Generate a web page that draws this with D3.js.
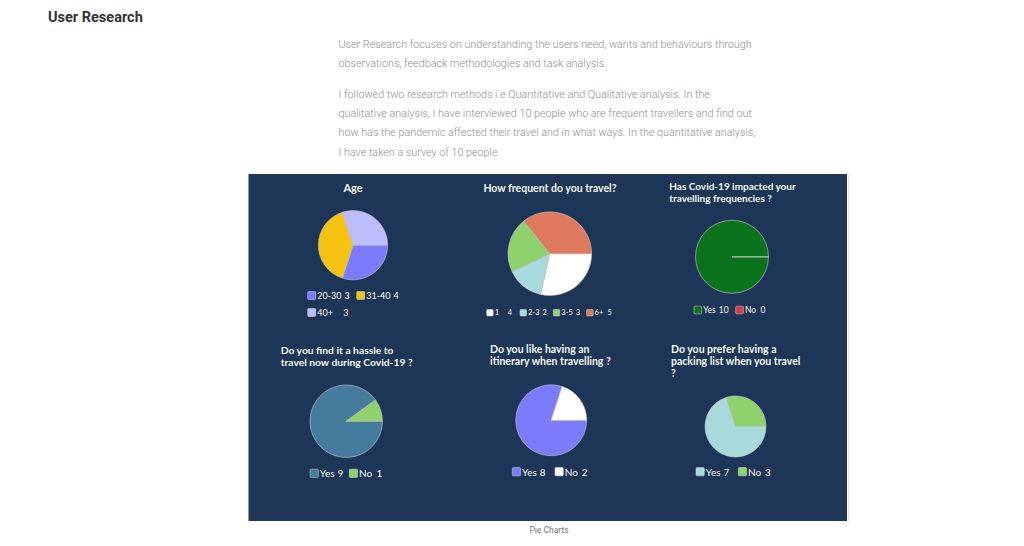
<!DOCTYPE html>
<html><head><meta charset="utf-8">
<script src="https://cdn.jsdelivr.net/npm/d3@7"></script>
<style>
html,body{margin:0;padding:0;background:#fff;}
svg{display:block;}
</style></head>
<body>
<svg id="chart" width="1024" height="546"></svg>
<script>
// ---------- data ----------
const pageHeading = "User Research";
const paragraph1 = [
  "User Research focuses on understanding the users need, wants and behaviours through",
  "observations, feedback methodologies and task analysis."
];
const paragraph2 = [
  "I followed two research methods i.e Quantitative and Qualitative analysis. In the",
  "qualitative analysis, I have interviewed 10 people who are frequent travellers and find out",
  "how has the pandemic affected their travel and in what ways. In the quantitative analysis,",
  "I have taken a survey of 10 people."
];
const captionText = "Pie Charts";

const ageTitle = ["Age"];
const ageLabels = ["20-30", "31-40", "40+"];
const ageValues = [3, 4, 3];
const ageColors = ["#7b7bfb", "#f5c211", "#bcbdfc"];

const freqTitle = ["How frequent do you travel?"];
const freqLabels = ["1", "2-3", "3-5", "6+"];
const freqValues = [4, 2, 3, 5];
const freqColors = ["#ffffff", "#a8dadc", "#8fd16b", "#e07a5f"];

const covidTitle = ["Has Covid-19 impacted your", "travelling frequencies ?"];
const covidLabels = ["Yes", "No"];
const covidValues = [10, 0];
const covidColors = ["#0a731c", "#e63946"];

const hassleTitle = ["Do you find it a hassle to", "travel now during Covid-19 ?"];
const hassleLabels = ["Yes", "No"];
const hassleValues = [9, 1];
const hassleColors = ["#457b9d", "#8fd16b"];

const itinTitle = ["Do you like having an", "itinerary when travelling ?"];
const itinLabels = ["Yes", "No"];
const itinValues = [8, 2];
const itinColors = ["#7b7bfb", "#ffffff"];

const packTitle = ["Do you prefer having a", "packing list when you travel", "?"];
const packLabels = ["Yes", "No"];
const packValues = [7, 3];
const packColors = ["#a8dadc", "#8fd16b"];

// ---------- layout (positions / styles only) ----------
const charts = [
  {title: ageTitle, labels: ageLabels, values: ageValues, colors: ageColors,
   cx: 353, cy: 245.2, r: 34.6, titleAnchor: "middle", tx: 353, ty: 187.7, tSize: 11,
   lx: 307.7, ly: 295.5, lStep: 49, perRow: 2, rowH: 17, sq: 8, lFont: 9, tab: 26,
   lFamily: "'Liberation Sans Narrow','Arial Narrow',Lato,sans-serif"},
  {title: freqTitle, labels: freqLabels, values: freqValues, colors: freqColors,
   cx: 549.8, cy: 253.7, r: 41.8, titleAnchor: "middle", tx: 550, ty: 187.7, tSize: 10.5,
   lx: 486.7, ly: 312.7, lStep: 33.3, perRow: 4, rowH: 17, sq: 6.5, lFont: 7.5, tab: 13,
   lFamily: "Lato,sans-serif"},
  {title: covidTitle, labels: covidLabels, values: covidValues, colors: covidColors,
   cx: 732, cy: 256.8, r: 36.5, titleAnchor: "start", tx: 669.3, ty: 186, tSize: 10,
   lx: 694, ly: 310, lStep: 41.7, perRow: 2, rowH: 17, sq: 7.7, lFont: 8.5, tab: 15.5,
   lFamily: "Lato,sans-serif"},
  {title: hassleTitle, labels: hassleLabels, values: hassleValues, colors: hassleColors,
   cx: 346.2, cy: 421.2, r: 36.2, titleAnchor: "start", tx: 280.7, ty: 350, tSize: 10.3,
   lx: 310, ly: 473.3, lStep: 39.3, perRow: 2, rowH: 17, sq: 8.3, lFont: 10, tab: 17.3,
   lFamily: "Lato,sans-serif"},
  {title: itinTitle, labels: itinLabels, values: itinValues, colors: itinColors,
   cx: 551.2, cy: 420.3, r: 35.5, titleAnchor: "start", tx: 490, ty: 349, tSize: 10.5,
   lx: 512.3, ly: 471.7, lStep: 42.7, perRow: 2, rowH: 17, sq: 8.3, lFont: 10, tab: 17,
   lFamily: "Lato,sans-serif"},
  {title: packTitle, labels: packLabels, values: packValues, colors: packColors,
   cx: 735.5, cy: 426.5, r: 30.5, titleAnchor: "start", tx: 671, ty: 349, tSize: 10.5,
   lx: 696, ly: 471.7, lStep: 42.3, perRow: 2, rowH: 17, sq: 8.3, lFont: 10, tab: 17,
   lFamily: "Lato,sans-serif"}
];

const svg = d3.select("#chart");

// page heading
svg.append("text").attr("x", 48).attr("y", 17.5).attr("dominant-baseline", "central")
  .attr("font-family", "Roboto, sans-serif").attr("font-weight", 700)
  .attr("font-size", 14.5).attr("fill", "#333").text(pageHeading);

// paragraphs (font size fitted so the first line spans the reference width)
const paraG = svg.append("g").attr("font-family", "Roboto, sans-serif")
  .attr("font-weight", 300).attr("font-size", 11).attr("fill", "#8f8f8f");
const p1 = paragraph1.map((t, i) => paraG.append("text").attr("x", 338.5).attr("y", 44.5 + i * 19.2)
  .attr("dominant-baseline", "central").text(t));
paragraph2.forEach((t, i) => paraG.append("text").attr("x", 338.5).attr("y", 94 + i * 19.4)
  .attr("dominant-baseline", "central").text(t));
const w0 = p1[0].node().getComputedTextLength();
paraG.attr("font-size", 11 * 414 / w0);

// panel
svg.append("rect").attr("x", 248.5).attr("y", 174).attr("width", 598.5).attr("height", 347)
  .attr("fill", "#1d3557");
svg.append("line").attr("x1", 848.5).attr("x2", 848.5).attr("y1", 174).attr("y2", 521)
  .attr("stroke", "#e4e4e4").attr("stroke-width", 1);

// caption
svg.append("text").attr("x", 549).attr("y", 530).attr("dominant-baseline", "central")
  .attr("text-anchor", "middle").attr("font-family", "Roboto, sans-serif")
  .attr("font-size", 8.5).attr("fill", "#777").text(captionText);

charts.forEach(c => {
  const g = svg.append("g");
  // title
  const tt = g.append("text").attr("font-family", "Lato, sans-serif").attr("font-weight", 700)
    .attr("font-size", c.tSize).attr("fill", "#f1faee").attr("text-anchor", c.titleAnchor);
  c.title.forEach((line, i) => tt.append("tspan").attr("x", c.tx).attr("y", c.ty + i * 11.8)
    .attr("dominant-baseline", "central").text(line));

  // pie
  const pie = d3.pie().sort(null).value(d => d)
    .startAngle(Math.PI / 2).endAngle(Math.PI / 2 + 2 * Math.PI);
  const arc = d3.arc().innerRadius(0).outerRadius(c.r);
  const color = d3.scaleOrdinal().domain(c.labels).range(c.colors);
  const arcs = pie(c.values).map((a, i) => Object.assign(a, {label: c.labels[i]}));
  const pg = g.append("g").attr("transform", `translate(${c.cx},${c.cy})`);
  pg.selectAll("path").data(arcs).join("path")
    .attr("d", arc).attr("fill", a => color(a.label))
    .attr("stroke", "#c9c9c9").attr("stroke-width", 0.6).attr("stroke-linejoin", "round");
  // full-circle slice: outline its start radius like the original renderer
  arcs.filter(a => a.endAngle - a.startAngle >= 2 * Math.PI - 1e-6).forEach(a => {
    pg.append("line").attr("x1", 0).attr("y1", 0)
      .attr("x2", c.r * Math.sin(a.startAngle)).attr("y2", -c.r * Math.cos(a.startAngle))
      .attr("stroke", "#9cc29c").attr("stroke-width", 0.8);
  });

  // legend
  const lg = g.append("g");
  c.labels.forEach((lab, i) => {
    const col = i % c.perRow, row = Math.floor(i / c.perRow);
    const x = c.lx + col * c.lStep, y = c.ly + row * c.rowH;
    lg.append("rect").attr("x", x).attr("y", y - c.sq / 2).attr("width", c.sq).attr("height", c.sq)
      .attr("rx", 1).attr("fill", color(lab)).attr("stroke", "#d8d8d8").attr("stroke-width", 0.5);
    const t1 = lg.append("text").attr("x", x + c.sq + 1.5).attr("y", y)
      .attr("dominant-baseline", "central").attr("font-family", c.lFamily)
      .attr("font-size", c.lFont).attr("fill", "#f1faee").text(lab);
    const w = t1.node().getComputedTextLength();
    lg.append("text").attr("x", x + c.sq + 1.5 + Math.max(w + 3, c.tab)).attr("y", y)
      .attr("dominant-baseline", "central").attr("font-family", c.lFamily)
      .attr("font-size", c.lFont).attr("fill", "#f1faee").text(c.values[i]);
  });
});
</script>
</body></html>
